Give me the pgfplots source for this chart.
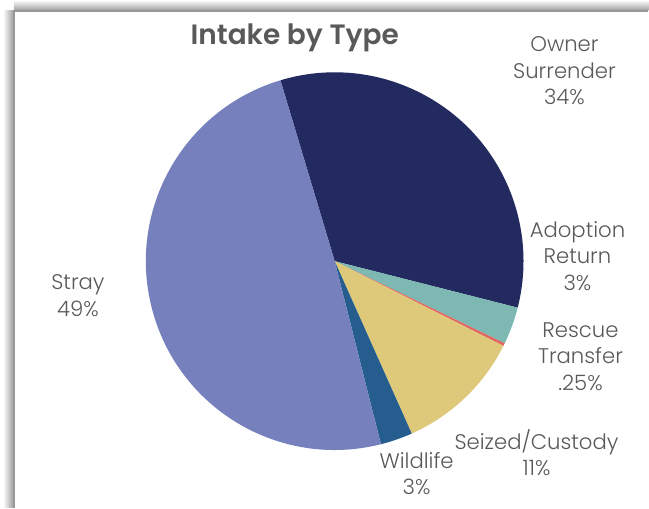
\documentclass[border=0pt]{standalone}
\usepackage{pgfplots}
\pgfplotsset{compat=1.18}
\usepackage{pgfplotstable}
\usepackage{fontspec}
\setmainfont{Poppins}[UprightFont=* Light, BoldFont=* SemiBold]

\definecolor{pc0}{RGB}{34,42,96}    % Owner Surrender
\definecolor{pc1}{RGB}{125,185,178} % Adoption Return
\definecolor{pc2}{RGB}{226,102,98}  % Rescue Transfer
\definecolor{pc3}{RGB}{222,200,122} % Seized/Custody
\definecolor{pc4}{RGB}{37,94,142}   % Wildlife
\definecolor{pc5}{RGB}{118,128,189} % Stray
\definecolor{txt}{RGB}{89,89,89}

% share of intake, percent, clockwise from the top
\pgfplotstableread{
idx value
0 33.6
1 3.2
2 0.25
3 10.9
4 2.75
5 49.3
}\piedata

\begin{document}
\begin{tikzpicture}
% start and end angle of each slice
\pgfplotstablegetrowsof{\piedata}
\pgfmathtruncatemacro{\nrows}{\pgfplotsretval-1}
\xdef\cum{106.7}
\foreach \i in {0,...,\nrows} {
  \pgfplotstablegetelem{\i}{value}\of\piedata
  \pgfmathsetmacro{\e}{\cum-3.6*\pgfplotsretval}
  \expandafter\xdef\csname sa\i\endcsname{\cum}
  \expandafter\xdef\csname ea\i\endcsname{\e}
  \xdef\cum{\e}
}
\begin{axis}[
  hide axis,
  x=0.5pt, y=0.5pt,
  xmin=0, xmax=649, ymin=0, ymax=508,
  clip=false,
]
  % chart area with its shadow
  \fill[white] (axis cs:0,0) rectangle (axis cs:649,508);
  \shade[left color=white, right color=black!40] (axis cs:3,0) rectangle (axis cs:14,497);
  \shade[top color=white, bottom color=black!40] (axis cs:14,508) rectangle (axis cs:649,497);
  \fill[white] (axis cs:14,0) rectangle (axis cs:649,497);
  \draw[black!40, line width=0.6pt] (axis cs:14,0) -- (axis cs:14,497) -- (axis cs:649,497);

  \pgfplotsinvokeforeach{0,...,5}{
    \fill[pc#1] (axis cs:335,246.6) -- ++(\csname sa#1\endcsname:94.5pt)
      arc[start angle=\csname sa#1\endcsname, end angle=\csname ea#1\endcsname, radius=94.5pt] -- cycle;
  }

  \node[font=\fontsize{14}{17}\selectfont\bfseries, text=txt] at (axis cs:295,470) {Intake by Type};
  \begin{scope}[every node/.style={font=\fontsize{10.6}{13.25}\selectfont, text=txt, align=center}]
    \node at (axis cs:565,437) {Owner\\Surrender\\34\%};
    \node at (axis cs:578,252) {Adoption\\Return\\3\%};
    \node at (axis cs:581,151) {Rescue\\Transfer\\.25\%};
    \node at (axis cs:537,55) {Seized/Custody\\11\%};
    \node at (axis cs:417,34) {Wildlife\\3\%};
    \node at (axis cs:78,212) {Stray\\49\%};
  \end{scope}
\end{axis}
\end{tikzpicture}
\end{document}
